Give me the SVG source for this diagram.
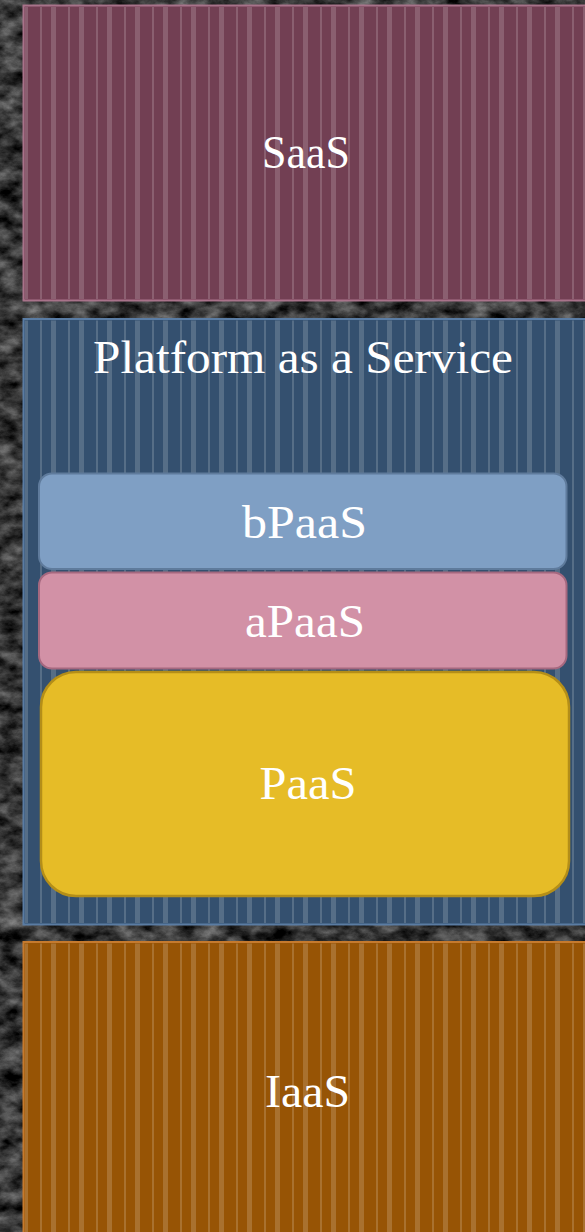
<svg xmlns="http://www.w3.org/2000/svg" width="585" height="1232" viewBox="0 0 585 1232">
  <defs>
    <filter id="stone" x="0" y="0" width="585" height="1232" filterUnits="userSpaceOnUse" color-interpolation-filters="sRGB">
      <feTurbulence type="fractalNoise" baseFrequency="0.045 0.07" numOctaves="5" seed="7" result="n"/>
      <feColorMatrix in="n" type="matrix" values="0.75 0 0 0 -0.16  0.75 0 0 0 -0.16  0.75 0 0 0 -0.16  0 0 0 0 1"/>
    </filter>
    <pattern id="stripes" x="0" y="0" width="28" height="20" patternUnits="userSpaceOnUse">
      <rect x="12" y="0" width="2" height="20" fill="#ffffff" fill-opacity="0.17"/>
      <rect x="23" y="0" width="5" height="20" fill="#ffffff" fill-opacity="0.17"/>
    </pattern>
    <style>
      .lbl { font-family: "Liberation Serif", "DejaVu Serif", serif; font-size: 46px; fill: #ffffff; text-anchor: middle; }
      .stripe { fill: url(#stripes); }
    </style>
  </defs>

  <rect x="0" y="0" width="585" height="1232" fill="#303030"/>
  <rect x="0" y="0" width="585" height="1232" filter="url(#stone)"/>

  <g id="saas">
    <rect x="23.5" y="5.5" width="570" height="295" fill="#723f53"/>
    <rect class="stripe" x="25" y="7" width="568" height="292"/>
    <rect x="23.5" y="5.5" width="570" height="295" fill="none" stroke="#a8738a" stroke-width="2"/>
    <text class="lbl" x="306" y="168" textLength="88" lengthAdjust="spacingAndGlyphs">SaaS</text>
  </g>

  <g id="platform">
    <rect x="23.5" y="319" width="570" height="605.5" fill="#34506f"/>
    <rect class="stripe" x="25" y="320.5" width="568" height="602.5"/>
    <rect x="23.5" y="319" width="570" height="605.5" fill="none" stroke="#5a7ca3" stroke-width="2"/>
    <text class="lbl" x="303" y="373" textLength="420" lengthAdjust="spacingAndGlyphs">Platform as a Service</text>
  </g>

  <g id="bpaas">
    <rect x="39" y="473.5" width="527.5" height="95.5" rx="13" fill="#7f9fc4" stroke="#5f7b9c" stroke-width="2"/>
    <text class="lbl" x="304.5" y="538" textLength="125" lengthAdjust="spacingAndGlyphs">bPaaS</text>
  </g>

  <g id="apaas">
    <rect x="39" y="572.5" width="527.5" height="96" rx="13" fill="#d291a6" stroke="#a5687f" stroke-width="2"/>
    <text class="lbl" x="305" y="637" textLength="120" lengthAdjust="spacingAndGlyphs">aPaaS</text>
  </g>

  <g id="paas">
    <rect x="41" y="672" width="528" height="224" rx="35" fill="#e6bc27" stroke="#b48e18" stroke-width="2.5"/>
    <text class="lbl" x="308" y="799" textLength="97" lengthAdjust="spacingAndGlyphs">PaaS</text>
  </g>

  <g id="iaas">
    <rect x="23.5" y="942" width="570" height="300" fill="#975405"/>
    <rect class="stripe" x="25" y="943.5" width="568" height="298"/>
    <rect x="23.5" y="942" width="570" height="300" fill="none" stroke="#c57a2e" stroke-width="2"/>
    <text class="lbl" x="307.5" y="1107" textLength="85" lengthAdjust="spacingAndGlyphs">IaaS</text>
  </g>
</svg>
